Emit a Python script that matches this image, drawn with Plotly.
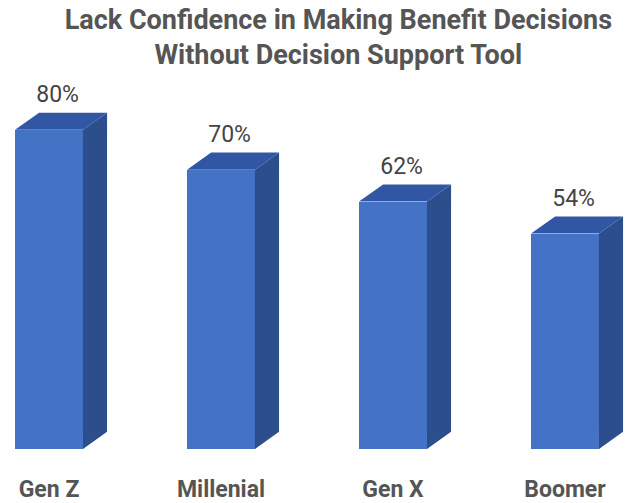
import plotly.graph_objects as go

categories = ["Gen Z", "Millenial", "Gen X", "Boomer"]
values = [80, 70, 62, 54]
value_labels = ["80%", "70%", "62%", "54%"]

FRONT = "#4472C4"
SIDE = "#2C4E8D"
TOP = "#3156A3"
W = 0.395      # front face width (axis units)
DX = 0.14      # depth offset in x (axis units)
DY = 4.3       # depth offset in y (axis units)

xs = list(range(len(categories)))
fig = go.Figure()

# side and top faces computed from the data values
for i, v in zip(xs, values):
    r = i + W / 2
    l = i - W / 2
    fig.add_trace(go.Scatter(
        x=[r, r, r + DX, r + DX, r], y=[0, v, v + DY, DY, 0],
        fill="toself", fillcolor=SIDE, mode="lines", line=dict(width=0, color=SIDE),
        hoverinfo="skip", showlegend=False))
    fig.add_trace(go.Scatter(
        x=[l, r, r + DX, l + DX, l], y=[v, v, v + DY, v + DY, v],
        fill="toself", fillcolor=TOP, mode="lines", line=dict(width=0, color=TOP),
        hoverinfo="skip", showlegend=False))

fig.add_trace(go.Bar(x=xs, y=values, width=W, marker=dict(color=FRONT, line=dict(width=0)),
                     hoverinfo="skip", showlegend=False))

fig.add_trace(go.Scatter(
    x=[i + 0.05 for i in xs], y=[v + DY + 4 for v in values], text=value_labels,
    mode="text", textposition="middle center",
    textfont=dict(family="Roboto", size=23, color="#444444"),
    cliponaxis=False, hoverinfo="skip", showlegend=False))

x0 = -49 / 172
fig.update_layout(
    width=642, height=503,
    margin=dict(l=0, r=0, t=60, b=54),
    paper_bgcolor="white", plot_bgcolor="white",
    title=dict(text="Lack Confidence in Making Benefit Decisions<br>Without Decision Support Tool",
               x=0.527, xanchor="center", y=0.942, yanchor="top",
               font=dict(family="Roboto", size=27, color="#555555", weight="bold")),
    xaxis=dict(range=[x0, x0 + 642 / 172], tickvals=xs, ticktext=categories,
               showgrid=False, zeroline=False, showline=False, ticks="",
               ticklabelstandoff=24, automargin=False,
               tickfont=dict(family="Roboto", size=23, color="#555555", weight="bold")),
    yaxis=dict(range=[0, 389 / 3.99], visible=False, showgrid=False, zeroline=False,
               automargin=False),
    bargap=0,
)

fig.write_html("out.html", config={"displayModeBar": False},
               post_script="document.body.style.margin='0';document.body.style.overflow='hidden';")
